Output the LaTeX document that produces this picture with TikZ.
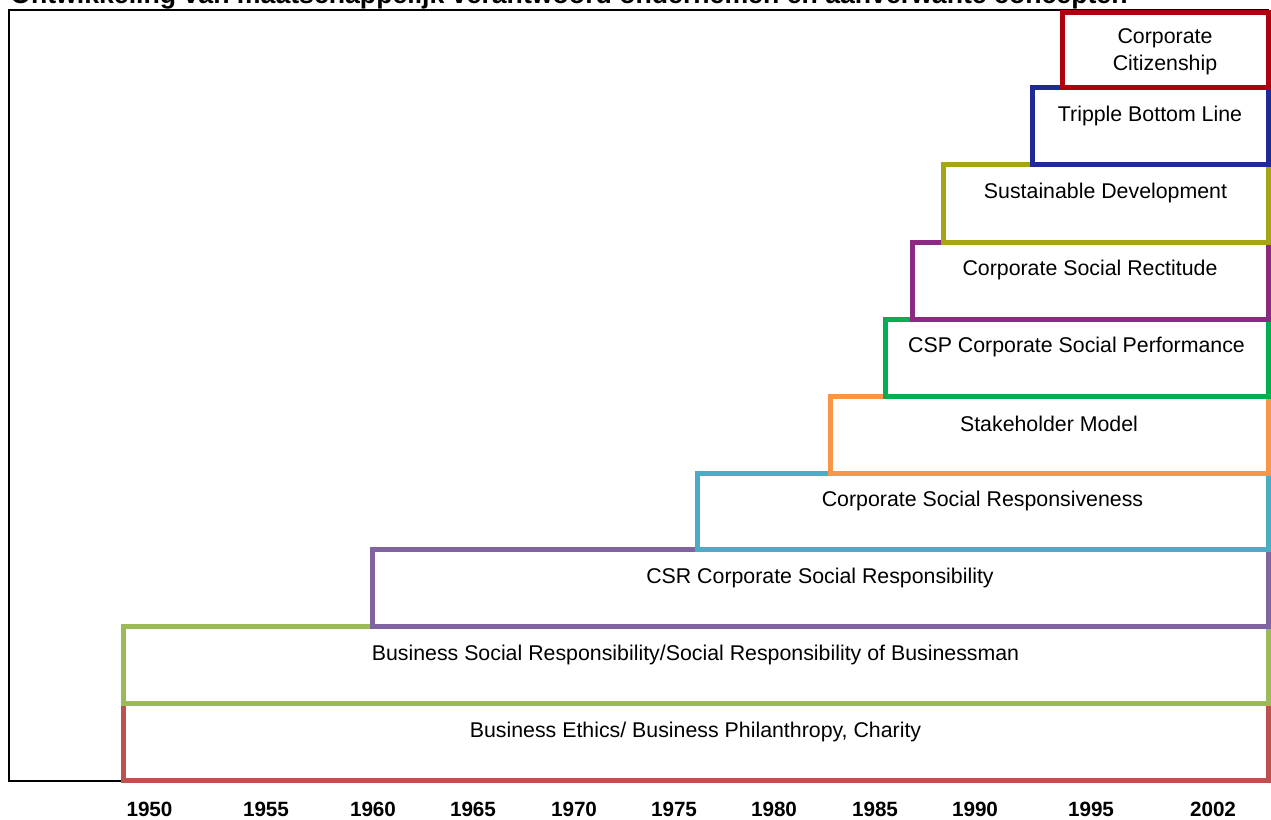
\documentclass[tikz,border=0pt]{standalone}
\usepackage{fontspec}
\setmainfont{Liberation Sans}
\definecolor{ethicsred}{HTML}{C0504D}
\definecolor{bsrgreen}{HTML}{9BBB59}
\definecolor{csrpurple}{HTML}{8064A2}
\definecolor{respteal}{HTML}{4BACC6}
\definecolor{stakeorange}{HTML}{F79646}
\definecolor{cspgreen}{HTML}{00B050}
\definecolor{rectpurple}{HTML}{8A2A82}
\definecolor{sustolive}{HTML}{A6A614}
\definecolor{tblnavy}{HTML}{1F2A94}
\definecolor{citizenred}{HTML}{B0000F}

\begin{document}
\begin{tikzpicture}[x=0.75pt, y=-0.75pt,
  every node/.style={font=\fontsize{16}{19}\selectfont, inner sep=0pt},
  era/.style={line width=3.75pt},
  yearlabel/.style={font=\fontsize{15.5}{18}\selectfont\bfseries}]
\useasboundingbox (0,0) rectangle (1271,820);
% title, cut off at the top
\node[anchor=base west, font=\fontsize{20}{24}\selectfont\bfseries] (title) at (10,4)
  {Ontwikkeling van maatschappelijk verantwoord ondernemen en aanverwante concepten};
% frame
\draw[line width=1.5pt] (8.5,10.5) rectangle (1268,781);
% eras, from the bottom up
\draw[era, ethicsred] (123,703) rectangle (1268,780);
\node (ethics) at (695.5,732) {Business Ethics/ Business Philanthropy, Charity};
\draw[era, bsrgreen] (123,626) rectangle (1268,703);
\node (bsr) at (695.5,655) {Business Social Responsibility/Social Responsibility of Businessman};
\draw[era, csrpurple] (372,549) rectangle (1268,626);
\node (csr) at (820,578) {CSR Corporate Social Responsibility};
\draw[era, respteal] (697,473) rectangle (1268,549);
\node (resp) at (982.5,501) {Corporate Social Responsiveness};
\draw[era, stakeorange] (830,396) rectangle (1268,473);
\node (stake) at (1049,424) {Stakeholder Model};
\draw[era, cspgreen] (885,319) rectangle (1268,396);
\node (csp) at (1076.5,347) {CSP Corporate Social Performance};
\draw[era, rectpurple] (912,242) rectangle (1268,319);
\node (rect) at (1090,270) {Corporate Social Rectitude};
\draw[era, sustolive] (943,165) rectangle (1268,242);
\node (sust) at (1105.5,193) {Sustainable Development};
\draw[era, tblnavy] (1032,88) rectangle (1268,165);
\node (tbl) at (1150,116) {Tripple Bottom Line};
\draw[era, citizenred] (1062,12.5) rectangle (1268,88);
\node[align=center, font=\fontsize{16}{20.3}\selectfont] (citizen) at (1165,52) {Corporate\\Citizenship};
% years
\foreach \x/\yr in {149.5/1950, 266/1955, 373/1960, 473/1965, 574/1970, 674/1975,
                    774/1980, 875/1985, 975/1990, 1091/1995, 1213/2002}
  \node[yearlabel] (yr\yr) at (\x,809.5) {\yr};
\end{tikzpicture}
\end{document}
